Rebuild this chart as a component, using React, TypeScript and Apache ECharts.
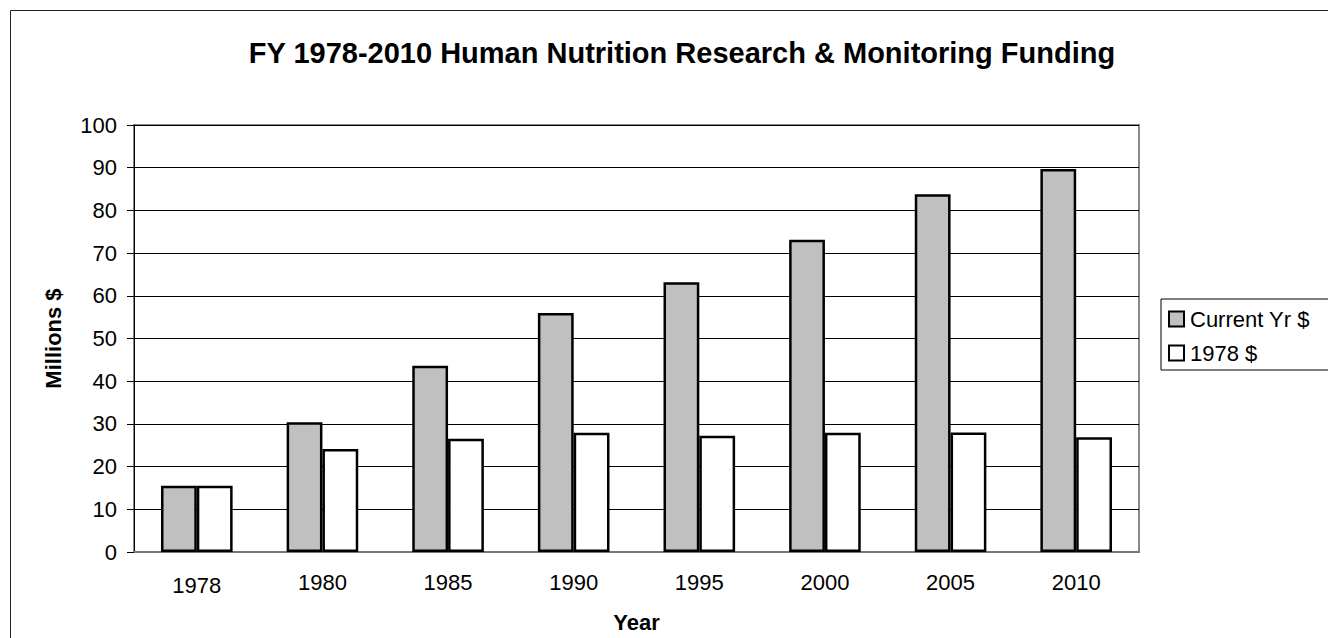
import React, { useEffect, useRef } from "react";
import * as echarts from "echarts";

const years = ["1978", "1980", "1985", "1990", "1995", "2000", "2005", "2010"];
const currentYr = [15.5, 30.4, 43.6, 56.0, 63.2, 73.1, 83.8, 89.7];
const constant1978 = [15.5, 24.1, 26.5, 27.9, 27.2, 27.9, 28.0, 26.9];
const yTicks = { min: 0, max: 100, interval: 10 };

export default function App() {
  const ref = useRef<HTMLDivElement>(null);
  useEffect(() => {
    document.body.style.margin = "0";
    const chart = echarts.init(ref.current!, null, { renderer: "svg" });
    const font = "Arial, 'Liberation Sans', sans-serif";
    chart.setOption({
      animation: false,
      backgroundColor: "#ffffff",
      textStyle: { fontFamily: font, color: "#000" },
      title: {
        text: "FY 1978-2010 Human Nutrition Research & Monitoring Funding",
        left: 677,
        top: 33,
        textAlign: "center",
        textStyle: { fontSize: 29, fontWeight: "bold", color: "#000", fontFamily: font },
      },
      graphic: [
        {
          type: "rect",
          shape: { x: 10.5, y: 10.5, width: 1340, height: 660 },
          style: { fill: "none", stroke: "#222", lineWidth: 1 },
          silent: true,
        },
      ],
      legend: {
        orient: "vertical",
        left: 1161,
        top: 299,
        itemWidth: 15,
        itemHeight: 15,
        itemGap: 12,
        icon: "rect",
        padding: [9, 60, 6, 7],
        borderColor: "#000",
        borderWidth: 1,
        textStyle: { fontSize: 22, color: "#000", fontFamily: font, padding: [0, 0, 0, 1] },
        data: ["Current Yr $", "1978 $"],
      },
      grid: { left: 134, right: 189, top: 125, bottom: 86, show: true, borderColor: "#888", borderWidth: 2 },
      xAxis: {
        type: "category",
        data: years.map((y, i) => (i === 0 ? { value: y, textStyle: { padding: [3, 0, 0, 0] } } : y)),
        name: "Year",
        nameLocation: "middle",
        nameGap: 59,
        nameTextStyle: { fontSize: 22, fontWeight: "bold", color: "#000", fontFamily: font },
        axisLine: { lineStyle: { color: "#777", width: 2 } },
        axisTick: { show: false },
        axisLabel: { fontSize: 22, color: "#000", margin: 19, fontFamily: font },
      },
      yAxis: {
        type: "value",
        min: yTicks.min,
        max: yTicks.max,
        interval: yTicks.interval,
        name: "Millions $",
        nameLocation: "middle",
        nameGap: 70,
        nameTextStyle: { fontSize: 22, fontWeight: "bold", color: "#000", fontFamily: font },
        axisLine: { show: true, lineStyle: { color: "#000", width: 1 } },
        axisTick: { show: true, length: 7, lineStyle: { color: "#000" } },
        axisLabel: { fontSize: 22, color: "#000", margin: 17, fontFamily: font },
        splitLine: { lineStyle: { color: "#000", width: 1 } },
      },
      series: [
        {
          name: "Current Yr $",
          type: "bar",
          data: currentYr,
          barGap: "0%",
          barCategoryGap: "43%",
          itemStyle: { color: "#c0c0c0", borderColor: "#000", borderWidth: 2.5 },
        },
        {
          name: "1978 $",
          type: "bar",
          data: constant1978,
          itemStyle: { color: "#ffffff", borderColor: "#000", borderWidth: 2.5 },
        },
      ],
    });
    return () => chart.dispose();
  }, []);
  return <div ref={ref} style={{ width: 1328, height: 638 }} />;
}
